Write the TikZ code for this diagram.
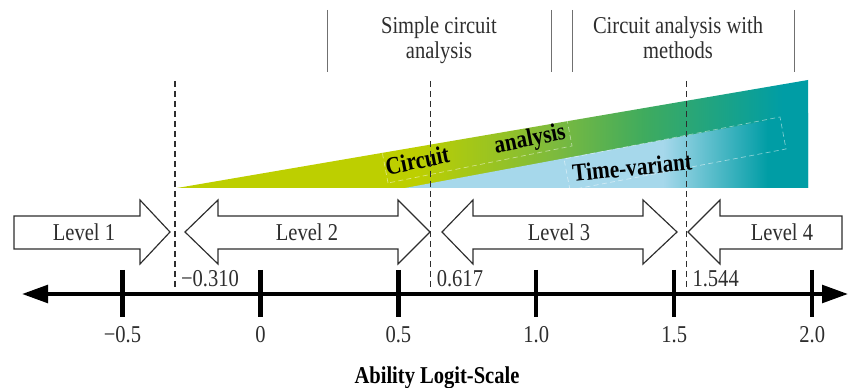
\documentclass[tikz,border=0pt]{standalone}
\usepackage{fontspec}
\setmainfont{Liberation Serif}[FakeStretch=0.85]
\usetikzlibrary{arrows.meta}

\definecolor{limeshade}{HTML}{BDCF00}
\definecolor{leafshade}{HTML}{7CBA3E}
\definecolor{grassshade}{HTML}{3FAB5E}
\definecolor{tealshade}{HTML}{009DA5}
\definecolor{skyshade}{HTML}{A6D8EB}
\definecolor{inkgray}{HTML}{2E2E2E}
\definecolor{rulegray}{HTML}{707070}

\pgfdeclarehorizontalshading{rampshade}{100bp}{color(0bp)=(limeshade); color(25bp)=(limeshade);
  color(44bp)=(limeshade); color(55bp)=(leafshade); color(62bp)=(grassshade);
  color(73bp)=(tealshade); color(100bp)=(tealshade)}
\pgfdeclarehorizontalshading{skyrampshade}{100bp}{color(0bp)=(skyshade); color(25bp)=(skyshade);
  color(57bp)=(skyshade); color(70bp)=(tealshade); color(100bp)=(tealshade)}

\begin{document}
\begin{tikzpicture}[x=0.6pt, y=-0.6pt,
    toptext/.style={font=\fontsize{14.5}{15}\selectfont, text=inkgray, align=center, inner sep=0pt},
    topline/.style={draw=rulegray, line width=0.6pt},
    wedgetext/.style={font=\fontsize{15}{15}\selectfont\bfseries, text=black, inner sep=0pt},
    textframe/.style={draw=white, draw opacity=0.5, densely dashed, line width=0.4pt},
    levelarrow/.style={draw=inkgray, fill=white, line width=0.7pt, line join=miter},
    leveltext/.style={font=\fontsize{14.5}{15}\selectfont, text=inkgray, inner sep=0pt},
    cutline/.style={draw=inkgray, line width=1pt, dash pattern=on 3.9pt off 2.1pt},
    cutlabel/.style={font=\fontsize{14.5}{15}\selectfont, text=inkgray, inner sep=0pt, anchor=base west, xshift=3.5pt},
    axisline/.style={line width=2.4pt, {Triangle[length=15.6pt,width=10.5pt]}-{Triangle[length=15.6pt,width=10.5pt]}},
    tickmark/.style={line width=2.6pt},
    ticklabel/.style={font=\fontsize{14.5}{15}\selectfont, text=inkgray, inner sep=0pt, anchor=base}]
  \useasboundingbox (0,0) rectangle (849,388);

  % topic headings
  \foreach \x [count=\i] in {327,551,572,794} {
    \coordinate (ruletop\i) at (\x,10);
    \coordinate (rulebot\i) at (\x,72);
    \draw[topline] (ruletop\i) -- (rulebot\i);
  }
  \node[toptext] (simplehead) at (439,40) {Simple circuit\\analysis};
  \node[toptext] (methodhead) at (678,38) {Circuit analysis with\\methods};

  % growing wedge
  \shade[shading=rampshade] (177,188) -- (808,80) -- (808,188) -- cycle;
  \shade[shading=skyrampshade] (405,188) -- (808,113) -- (808,188) -- cycle;
  \node[wedgetext, rotate=11.5, anchor=base] (circuitlbl) at (477,157) {Circuit\hspace{1.85em}analysis};
  \coordinate (tvbl) at (570,190);
  \coordinate (tvtl) at (564,159);
  \coordinate (tvtr) at (780,117);
  \coordinate (tvbr) at (786,149);
  \draw[textframe] (tvbl) -- (tvtl) -- (tvtr) -- (tvbr) -- cycle;
  \coordinate (cabl) at (388,183);
  \coordinate (catl) at (382,151);
  \coordinate (catr) at (566,114);
  \coordinate (cabr) at (572,146);
  \draw[textframe] (cabl) -- (catl) -- (catr) -- (cabr) -- cycle;
  \node[wedgetext, rotate=6, anchor=base west] (timelbl) at (573,182) {Time-variant};

  % levels
  \draw[levelarrow] (14,216) -- (140,216) -- (140,200) -- (170,232) -- (140,264)
    -- (140,249) -- (14,249) -- cycle;
  \draw[levelarrow] (185,232) -- (218,200) -- (218,216) -- (398,216) -- (398,200) -- (430,232)
    -- (398,264) -- (398,249) -- (218,249) -- (218,264) -- cycle;
  \draw[levelarrow] (442,232) -- (473,200) -- (473,216) -- (643,216) -- (643,200) -- (677,232)
    -- (643,264) -- (643,249) -- (473,249) -- (473,264) -- cycle;
  \draw[levelarrow] (688,232) -- (720,200) -- (720,216) -- (842,216) -- (842,249)
    -- (720,249) -- (720,264) -- cycle;
  \node[leveltext] (level1) at (84,232) {Level 1};
  \node[leveltext] (level2) at (307,232) {Level 2};
  \node[leveltext] (level3) at (559,232) {Level 3};
  \node[leveltext] (level4) at (782,232) {Level 4};

  % logit axis
  \coordinate (axisleft) at (22,294);
  \coordinate (axisright) at (848,294);
  \draw[axisline] (axisleft) -- (axisright);
  \begin{scope}[shift={(260.4,0)}, x=165.54pt]
    \foreach \v/\lbl [count=\i] in {-0.5/{−0.5},0/0,0.5/0.5,1.0/1.0,1.5/1.5,2.0/2.0} {
      \coordinate (ticktop\i) at (\v,270);
      \coordinate (tickbot\i) at (\v,317);
      \draw[tickmark] (ticktop\i) -- (tickbot\i);
      \node[ticklabel] (ticklbl\i) at (\v,342) {\lbl};
    }
    \foreach \v/\lbl [count=\i] in {-0.310/{−0.310},0.617/0.617,1.544/1.544} {
      \coordinate (cuttop\i) at (\v,81);
      \coordinate (cutbot\i) at (\v,290);
      \draw[cutline] (cuttop\i) -- (cutbot\i);
      \node[cutlabel] (cutlbl\i) at (\v,286) {\lbl};
    }
  \end{scope}
  \node[font=\fontsize{14.5}{15}\selectfont\bfseries, inner sep=0pt, anchor=base] (axistitle) at (437,383) {Ability Logit-Scale};
\end{tikzpicture}
\end{document}
